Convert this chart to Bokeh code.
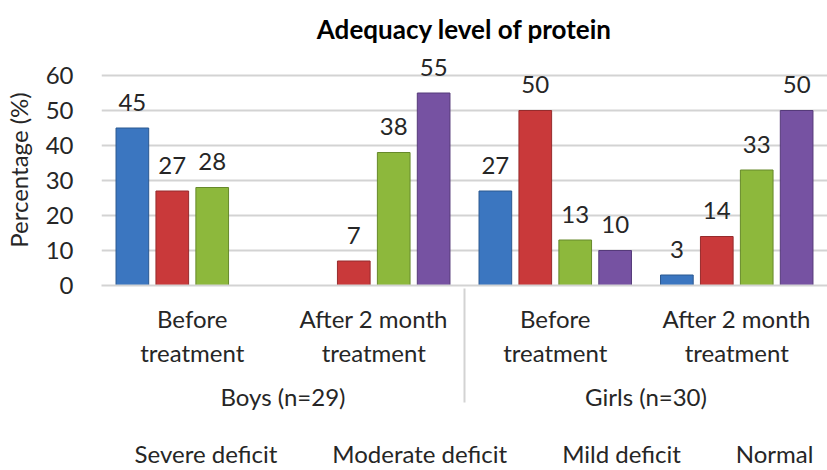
import math
from bokeh.plotting import figure
from bokeh.layouts import column
from bokeh.models import ColumnDataSource, FactorRange, Range1d, SingleIntervalTicker, Legend, LegendItem
from bokeh.transform import dodge
from bokeh.core.properties import value
from bokeh.embed import file_html
from bokeh.resources import INLINE

nan = float("nan")

title_text = "Adequacy level of protein"
y_label = "Percentage (%)"
groups = ["Boys (n=29)", "Girls (n=30)"]
stages = ["Before\ntreatment", "After 2 month\ntreatment"]
series_names = ["Severe deficit", "Moderate deficit", "Mild deficit", "Normal"]
severe = [45, nan, 27, 3]
moderate = [27, 7, 50, 14]
mild = [28, 38, 13, 33]
normal = [nan, 55, 10, 50]
y_ticks_interval = 10
y_view_max = 66

FONT = "Lato"
TXT = "#262626"
GRID = "#d3d3d3"
fills = ["#3b76c0", "#c9393a", "#8db83c", "#7652a2"]
edges = ["#2a5890", "#962b2c", "#66892a", "#553a7a"]
offsets = [-0.33, -0.11, 0.11, 0.33]

factors = [(g, s) for g in groups for s in stages]
data = {"x": factors}
series = [severe, moderate, mild, normal]
keys = ["s0", "s1", "s2", "s3"]
for k, vals in zip(keys, series):
    data[k] = vals
    data[k + "_lbl"] = ["" if (isinstance(v, float) and math.isnan(v)) else str(v) for v in vals]
source = ColumnDataSource(data)

p = figure(width=827, height=436, output_backend="svg", toolbar_location=None,
           x_range=FactorRange(*factors, group_padding=0, subgroup_padding=0, factor_padding=0, range_padding=0),
           y_range=Range1d(0, y_view_max),
           min_border_left=95, min_border_right=0, min_border_top=52, min_border_bottom=151)

p.title.text = title_text
p.title.align = "center"
p.title.text_font = FONT
p.title.text_font_size = "26px"
p.title.text_font_style = "bold"
p.title.text_color = "#000000"
p.title.standoff = 20

p.outline_line_color = None
p.xgrid.grid_line_color = None
p.ygrid.grid_line_color = GRID
p.ygrid.grid_line_width = 2

p.yaxis.ticker = SingleIntervalTicker(interval=y_ticks_interval)
p.yaxis.axis_line_color = None
p.yaxis.major_tick_line_color = None
p.yaxis.minor_tick_line_color = None
p.yaxis.major_label_text_font = FONT
p.yaxis.major_label_text_font_size = "24px"
p.yaxis.major_label_text_color = TXT
p.yaxis.major_label_standoff = 22
p.yaxis.axis_label = y_label
p.yaxis.axis_label_text_font = FONT
p.yaxis.axis_label_text_font_size = "24px"
p.yaxis.axis_label_text_font_style = "normal"
p.yaxis.axis_label_text_color = TXT
p.yaxis.axis_label_standoff = 10

p.xaxis.axis_line_color = GRID
p.xaxis.axis_line_width = 2
p.xaxis.major_tick_line_color = None
p.xaxis.minor_tick_line_color = None
p.xaxis.major_label_text_font = FONT
p.xaxis.major_label_text_font_size = "24px"
p.xaxis.major_label_text_color = TXT
p.xaxis.major_label_text_line_height = 1.2
p.xaxis.major_label_standoff = 12
p.xaxis.group_text_font = FONT
p.xaxis.group_text_font_size = "24px"
p.xaxis.group_text_color = TXT
p.xaxis.group_text_font_style = "normal"
p.xaxis.separator_line_color = GRID
p.xaxis.separator_line_width = 2

for k, off, fc, ec in zip(keys, offsets, fills, edges):
    p.vbar(x=dodge("x", off, range=p.x_range), top=k, width=0.18, source=source,
           fill_color=fc, line_color=ec, line_width=1)
    p.text(x=dodge("x", off, range=p.x_range), y=k, text=k + "_lbl", source=source,
           text_align="center", text_baseline="alphabetic", y_offset=-26,
           text_font=value(FONT), text_font_size="24px", text_color=TXT)

# legend strip below the chart
lg = figure(width=827, height=34, output_backend="svg", toolbar_location=None,
            x_axis_location=None, y_axis_location=None, min_border=0,
            x_range=Range1d(0, 1), y_range=Range1d(0, 1))
lg.outline_line_color = None
lg.xgrid.visible = False
lg.ygrid.visible = False
items = []
for fc, ec, name in zip(fills, edges, series_names):
    r = lg.vbar(x=[], top=[], width=0.1, fill_color=fc, line_color=ec, line_width=1)
    items.append(LegendItem(label=name, renderers=[r]))
legend = Legend(items=items, orientation="horizontal", location="center",
                label_text_font=FONT, label_text_font_size="24px", label_text_color=TXT,
                glyph_width=12, glyph_height=12, spacing=35, label_standoff=8,
                padding=0, margin=0, border_line_color=None, background_fill_alpha=0)
lg.add_layout(legend)

layout = column(p, lg, spacing=0)
open("out.html", "w").write(file_html(layout, INLINE))
